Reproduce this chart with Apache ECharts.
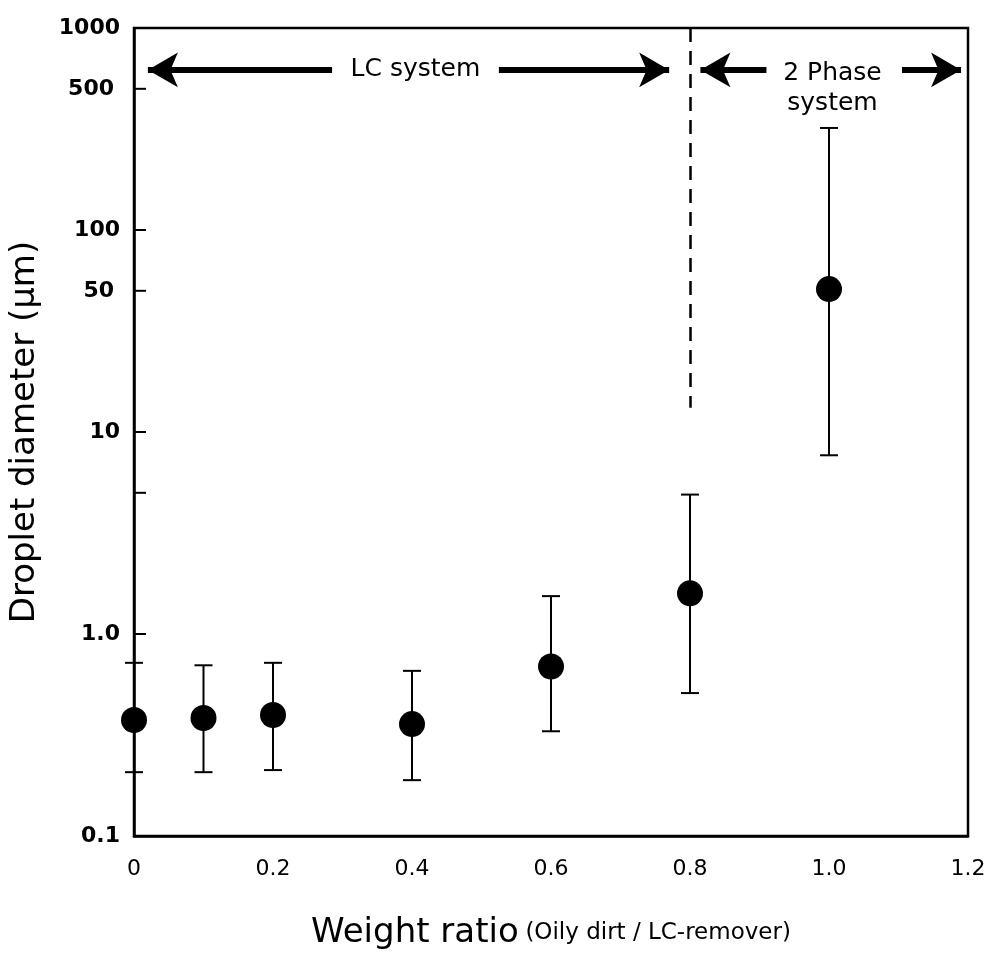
<!DOCTYPE html>
<html><head><meta charset="utf-8">
<script src="https://cdn.jsdelivr.net/npm/echarts@6/dist/echarts.min.js"></script>
<style>html,body{margin:0;background:#fff}#c{width:1001px;height:971px}</style>
</head><body><div id="c"></div>
<script>
var ratios = [0, 0.1, 0.2, 0.4, 0.6, 0.8, 1.0];
var diameters = [0.375, 0.384, 0.397, 0.358, 0.69, 1.59, 51];
var errHigh = [0.72, 0.70, 0.72, 0.657, 1.54, 4.9, 320];
var errLow = [0.207, 0.207, 0.212, 0.189, 0.33, 0.51, 7.67];
var minorTicks = [500, 50, 5];
var minorLabels = ['500', '50', ''];
var regionLabels = [['LC system', 0.405, 620], ['2 Phase\nsystem', 1.005, 500]];

var font = 'DejaVu Sans';
var chart = echarts.init(document.getElementById('c'));

var pts = ratios.map(function (r, i) { return [r, diameters[i]]; });
var bars = ratios.map(function (r, i) { return [r, errLow[i], errHigh[i]]; });

chart.setOption({
    animation: false,
    grid: {left: 133, right: 33, top: 28, bottom: 135, show: true, borderColor: '#000', borderWidth: 2.5},
    xAxis: {
        type: 'value', min: 0, max: 1.2, interval: 0.2,
        axisLine: {lineStyle: {color: '#000', width: 2.5}},
        axisTick: {show: false}, splitLine: {show: false},
        axisLabel: {
            color: '#000', fontSize: 22, fontFamily: font, margin: 22,
            formatter: function (v) { return v === 0 ? '0' : (v === 1 ? '1.0' : v.toFixed(1)); }
        },
        name: '{a|Weight ratio}  {b|(Oily dirt / LC-remover)}',
        nameLocation: 'middle', nameGap: 80,
        nameTextStyle: {rich: {
            a: {fontSize: 34, fontFamily: font, color: '#000'},
            b: {fontSize: 23, fontFamily: font, color: '#000'}
        }}
    },
    yAxis: {
        type: 'log', logBase: 10, min: 0.1, max: 1000,
        axisLine: {lineStyle: {color: '#000', width: 2.5}},
        axisTick: {inside: true, length: 12, lineStyle: {color: '#000', width: 2}},
        minorTick: {show: false}, splitLine: {show: false},
        axisLabel: {
            color: '#000', fontSize: 22, fontWeight: 'bold', fontFamily: font, margin: 14,
            formatter: function (v) { return v === 1 ? '1.0' : String(v); }
        },
        name: 'Droplet diameter (μm)', nameLocation: 'middle', nameGap: 92,
        nameTextStyle: {fontSize: 34, fontFamily: font, color: '#000'}
    },
    series: [
        {
            type: 'custom', data: bars, z: 2,
            renderItem: function (params, api) {
                var lo = api.coord([api.value(0), api.value(1)]);
                var hi = api.coord([api.value(0), api.value(2)]);
                var w = 9, st = {stroke: '#000', lineWidth: 2};
                return {type: 'group', children: [
                    {type: 'line', shape: {x1: lo[0], y1: lo[1], x2: hi[0], y2: hi[1]}, style: st},
                    {type: 'line', shape: {x1: lo[0] - w, y1: lo[1], x2: lo[0] + w, y2: lo[1]}, style: st},
                    {type: 'line', shape: {x1: hi[0] - w, y1: hi[1], x2: hi[0] + w, y2: hi[1]}, style: st}
                ]};
            }
        },
        {
            type: 'scatter', data: pts, symbolSize: 26, z: 3,
            itemStyle: {color: '#000', opacity: 1},
            markLine: {
                silent: true, symbol: 'none', animation: false,
                label: {show: false},
                lineStyle: {color: '#000', type: [14, 9], width: 2.5},
                data: [[{coord: [0.8, 1000]}, {coord: [0.8, 13.2]}]]
            }
        },
        {
            type: 'scatter', data: minorTicks.map(function (v, i) { return {value: [0, v], label: {formatter: minorLabels[i]}}; }),
            symbol: 'rect', symbolSize: [12, 2], symbolOffset: [6, 0], z: 4,
            itemStyle: {color: '#000', opacity: 1},
            label: {show: true, position: 'left', distance: 20, color: '#000', fontSize: 22, fontWeight: 'bold', fontFamily: font, opacity: 1},
            emphasis: {disabled: true}
        },
        {
            type: 'line', data: [], z: 5,
            markLine: {
                silent: true, animation: false,
                symbol: ['arrow', 'none'], symbolSize: [26, 30],
                label: {show: false},
                lineStyle: {color: '#000', type: 'solid', width: 6},
                data: [
                    [{coord: [0.02, 620], symbol: 'arrow'}, {coord: [0.285, 620], symbol: 'none'}],
                    [{coord: [0.525, 620], symbol: 'none'}, {coord: [0.77, 620], symbol: 'arrow'}],
                    [{coord: [0.815, 620], symbol: 'arrow'}, {coord: [0.91, 620], symbol: 'none'}],
                    [{coord: [1.105, 620], symbol: 'none'}, {coord: [1.19, 620], symbol: 'arrow'}]
                ]
            }
        }
    ]
});

chart.setOption({
    graphic: regionLabels.map(function (t) {
        var p = chart.convertToPixel({xAxisIndex: 0, yAxisIndex: 0}, [t[1], t[2]]);
        return {
            type: 'text', x: p[0], y: p[1], z: 10,
            style: {text: t[0], fill: '#000', fontSize: 25, fontFamily: font, lineHeight: 30,
                align: 'center', verticalAlign: 'middle'}
        };
    })
});
</script></body></html>
